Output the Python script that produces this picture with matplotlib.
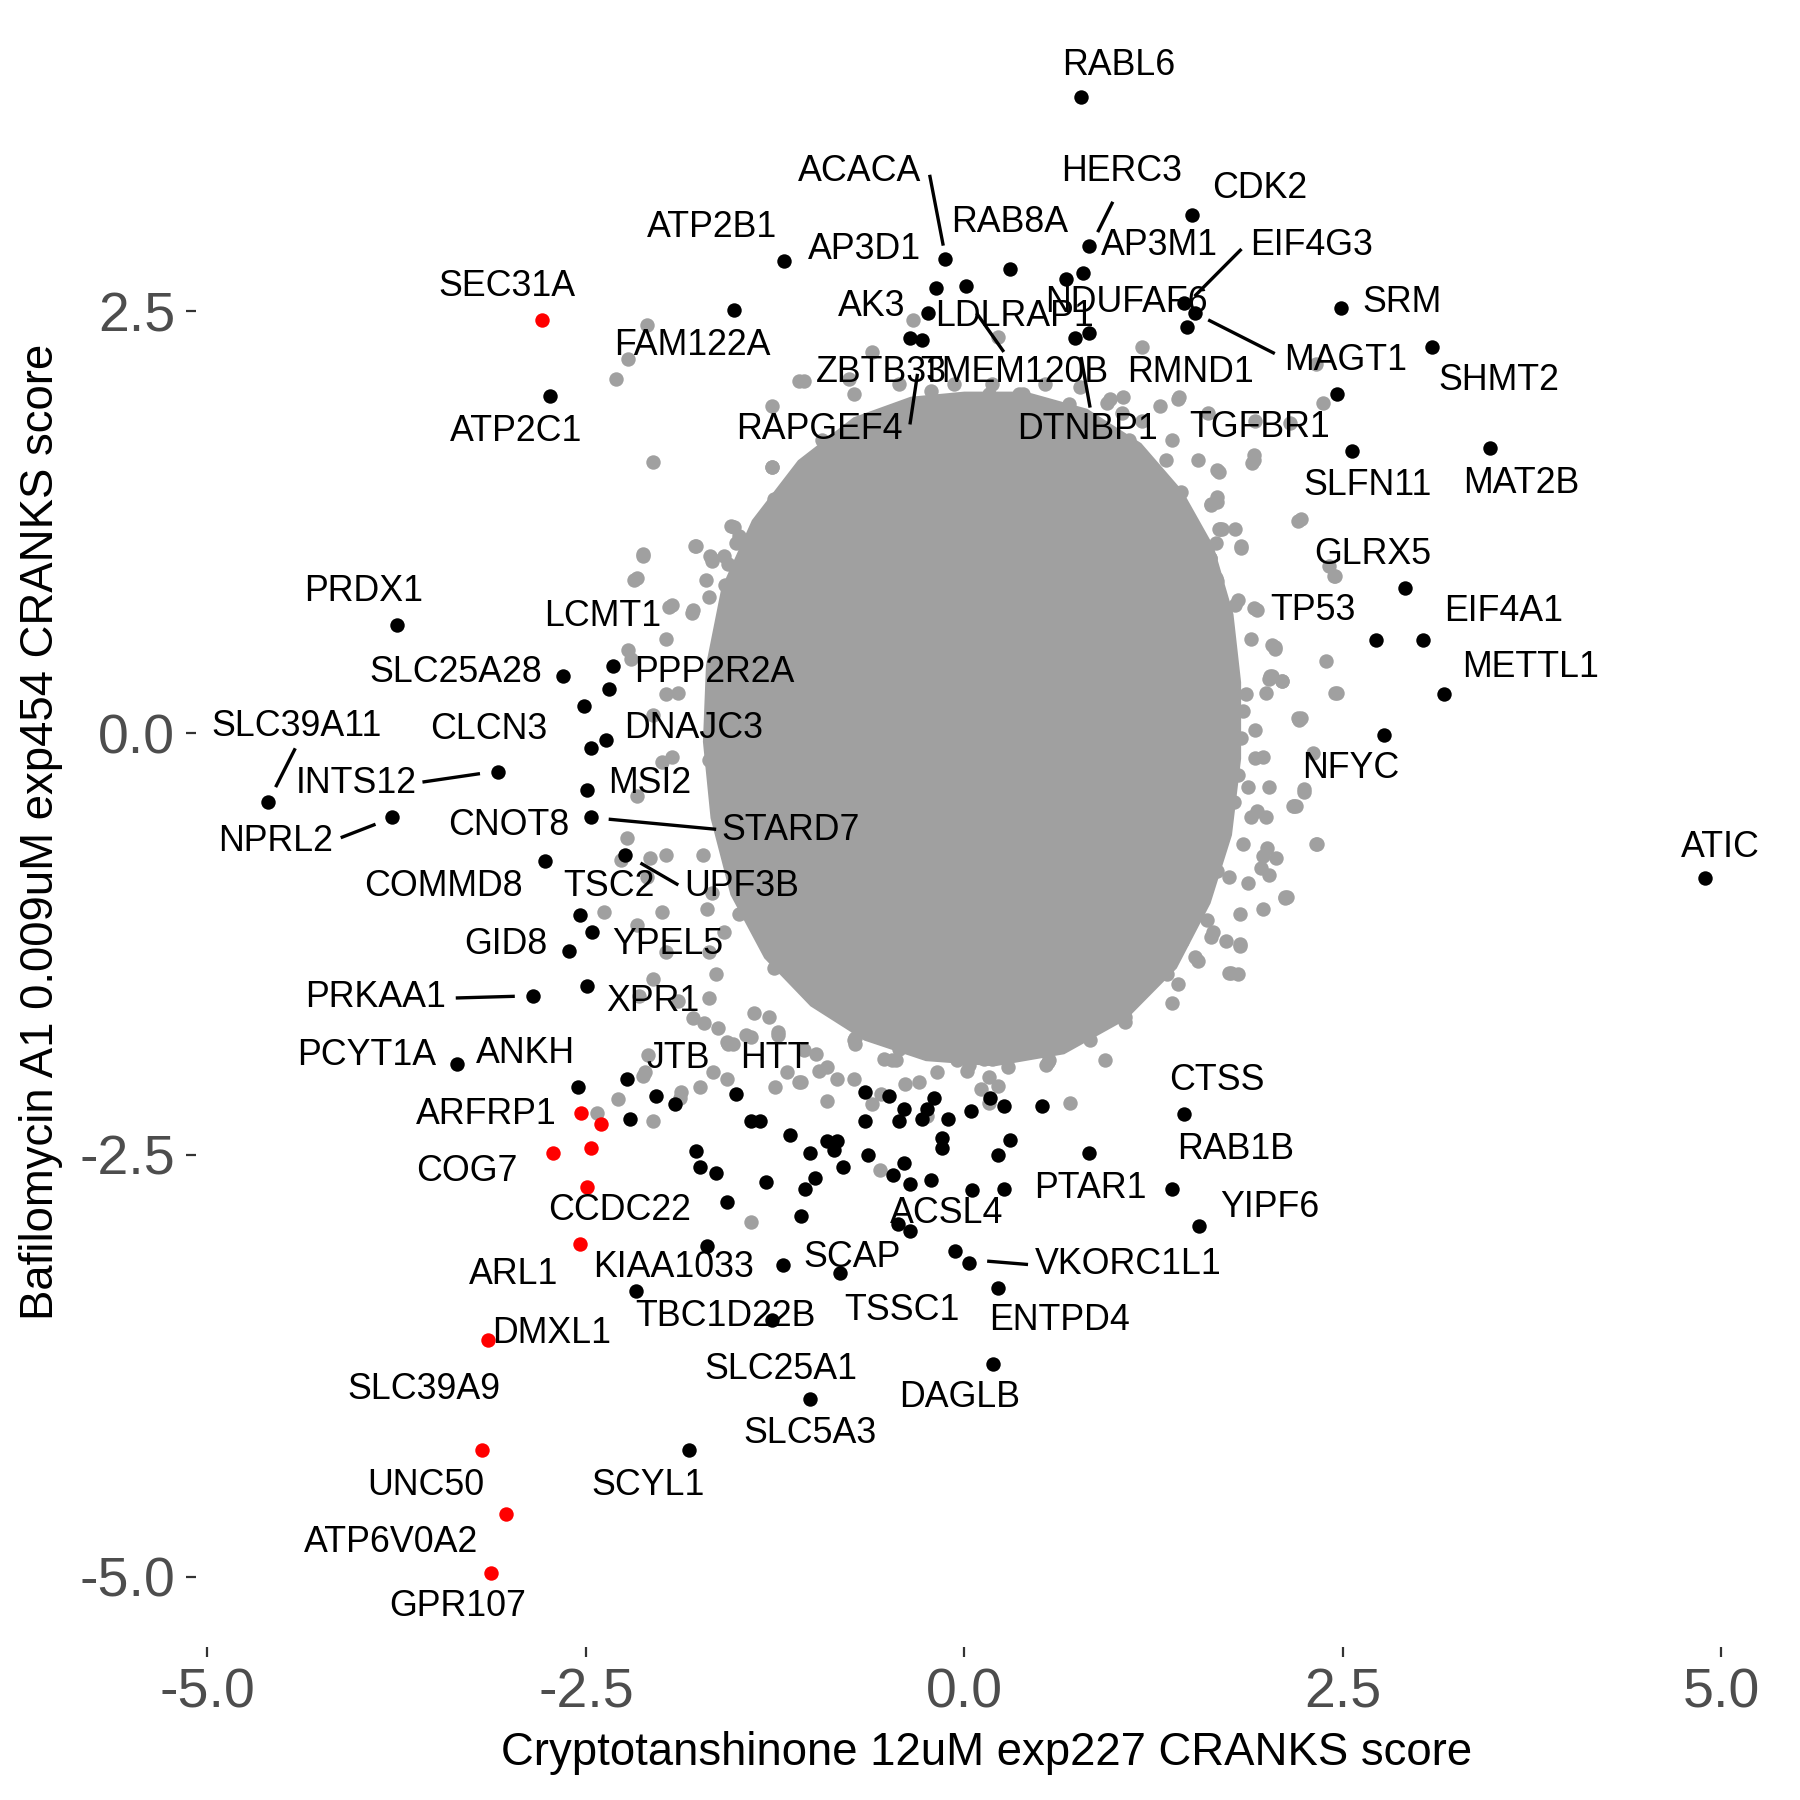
import numpy as np
import matplotlib
matplotlib.use("Agg")
import matplotlib.pyplot as plt
from matplotlib.patches import Polygon

plt.rcParams["font.family"] = ["Liberation Sans", "DejaVu Sans"]

# ---- data (CRANKS scores) ----
# dense centre of the gray cloud, traced outline
core_x = [0.0, 0.4, 0.8, 1.15, 1.42, 1.62, 1.75, 1.80, 1.80, 1.74, 1.60, 1.38, 1.05, 0.65,
          0.2, -0.25, -0.65, -1.0, -1.3, -1.52, -1.65, -1.70, -1.68, -1.58, -1.38, -1.08,
          -0.72, -0.35]
core_y = [2.0, 2.0, 1.9, 1.7, 1.42, 1.1, 0.7, 0.3, -0.15, -0.6, -1.0, -1.38, -1.68, -1.88,
          -1.95, -1.92, -1.80, -1.60, -1.32, -0.95, -0.5, -0.05, 0.4, 0.85, 1.25, 1.6,
          1.85, 1.97]

# background genes around the dense centre
gray_pts = [
    # upper left
    (-2.10, 2.42), (-2.22, 2.22), (-2.30, 2.10), (-2.06, 1.61), (-1.54, 1.23), (-1.77, 1.11),
    (-1.67, 1.03), (-2.12, 1.05), (-2.18, 0.91), (-1.71, 0.91), (-1.58, 0.88), (-1.51, 1.13),
    # top
    (-0.34, 2.45), (-0.61, 2.26), (-1.06, 2.09), (-1.27, 1.94), (-1.27, 1.58), (0.22, 2.35),
    (1.17, 2.29), (1.19, 1.57), (1.37, 1.74), (1.63, 1.36), (1.83, 1.10), (2.20, 1.26),
    (1.91, 1.65),
    # rim of the cloud
    (-1.09, 2.09), (-0.73, 2.01), (1.05, 1.99), (1.42, 1.99), (1.67, 1.56), (1.91, 1.62),
    (2.22, 1.27), (1.83, 1.11), (1.68, 1.21), (2.44, 0.93), (1.91, 0.74), (2.03, 0.52),
    (2.01, 0.32), (2.45, 0.24), (2.21, 0.08), (1.92, 0.02), (1.97, -0.14), (2.24, -0.33),
    (2.18, -0.43), (2.33, -0.66), (2.12, -0.98), (1.75, -0.85), (1.81, -1.43), (1.52, -1.33),
    (1.60, -1.11), (1.37, -1.60), (1.06, -1.68), (0.93, -1.94), (0.56, -1.94), (0.16, -2.04),
    (-0.05, -1.94), (-0.25, -1.88), (-0.45, -1.94), (-0.72, -1.81), (-0.96, -2.00),
    (-1.06, -1.88), (-1.29, -1.68), (-1.63, -1.75), (-1.89, -1.59), (-2.06, -1.46),
    (-1.97, -1.30), (-2.00, -1.06), (-2.10, -0.85), (-2.27, -0.75), (-1.97, -0.72),
    (-1.70, -1.04), (-1.73, -0.72), (-2.16, -0.37), (-1.93, -0.14), (-2.06, 0.11), (-1.89, 0.24),
    (-2.20, 0.44), (-1.97, 0.56), (-1.79, 0.73), (-1.93, 0.76), (-2.16, 0.92), (-2.12, 1.06),
    (-1.78, 1.11), (-1.68, 1.05), (-1.52, 1.22), (-1.19, 1.27), (-1.09, 1.48), (-1.27, 1.58),
    (-0.99, 1.59), (-0.72, 1.82), (-0.32, 1.88), (-0.11, 1.91), (0.16, 2.01), (0.39, 2.01),
    (0.69, 1.95), (0.96, 1.98), (1.17, 1.85), (1.33, 1.62), (1.43, 1.43), (1.70, 1.21),
    (1.67, 1.37), (1.47, 0.89), (1.81, 0.79), (1.64, 0.60), (1.97, -1.04), (1.73, -1.23),
    (1.13, -1.39), (0.73, -1.65), (0.56, -1.75), (0.32, -1.81),
    # below the cloud
    (-2.43, -2.25), (-2.29, -2.17), (-2.06, -2.30), (-2.12, -2.03), (-2.09, -1.91), (-1.88, -2.16),
    (-1.75, -2.10), (-1.66, -2.01), (-1.57, -2.05), (-1.44, -1.79), (-1.57, -1.83), (-1.72, -1.72),
    (-1.41, -2.90), (-1.23, -1.79), (-1.25, -2.10), (-1.17, -2.01), (-1.09, -2.07), (-0.98, -1.90),
    (-0.91, -2.18), (-0.84, -2.05), (-0.73, -2.05), (-0.72, -1.84), (-0.61, -2.20), (-0.55, -2.14),
    (-0.56, -2.59), (-0.48, -1.94), (-0.39, -2.08), (-0.30, -2.07), (-0.25, -2.27), (-0.18, -2.01),
    (-0.09, -1.90), (0.02, -2.00), (0.11, -2.11), (0.16, -2.19), (0.22, -2.09), (0.29, -1.98),
    (0.13, -1.93), (0.38, -1.87), (0.54, -1.97), (0.70, -2.19), (0.45, -1.76),
    # right
    (2.32, 2.19), (2.37, 1.96), (1.92, 1.85), (2.15, 1.84), (1.61, 1.90), (1.90, 1.60),
    (1.68, 1.55), (1.63, 1.35), (1.69, 1.21), (1.66, 1.13), (1.62, 1.04), (2.41, 0.99),
    (2.45, 0.93), (1.66, 0.92), (1.93, 0.73), (2.05, 0.51), (2.39, 0.43), (2.46, 0.24),
    (2.22, 0.09), (2.10, 0.31), (2.03, 0.34), (2.30, -0.12), (2.24, -0.35), (2.19, -0.43),
    (2.32, -0.66), (2.00, -0.68), (2.06, -0.74), (1.96, -0.80), (2.01, -0.84), (1.87, -0.89),
    (2.13, -0.97), (1.82, -1.07), (1.63, -1.21), (1.82, -1.26), (1.76, -1.42), (1.92, -0.15),
    (1.81, -0.25), (2.01, -0.32), (1.93, -0.46), (1.89, -0.50), (1.78, -0.41), (1.83, -0.03),
    (1.86, 0.23), (1.99, 0.24), (1.76, 0.40), (1.71, 0.65), (1.79, 0.76),
    # left
    (-1.95, 0.75), (-1.80, 0.71), (-2.22, 0.49), (-1.97, 0.23), (-2.00, -0.17), (-2.23, -0.62),
    (-2.08, -0.74), (-2.38, -1.06), (-2.16, -1.14), (-2.15, -1.56), (-1.79, -1.69), (-1.53, -1.84),
    (-2.11, -2.01), (-1.87, -2.13),
    # inner ring
    (2.05, 0.50), (2.10, 0.31), (2.20, 0.09), (2.17, -0.43), (2.12, -0.97), (1.82, -1.25),
    (1.75, -1.42), (1.54, -1.35), (1.41, -1.49), (1.34, -1.43), (1.13, -1.39), (1.06, -1.71),
    (1.09, -1.56), (0.83, -1.82), (0.55, -1.95), (0.36, -1.86), (0.18, -1.93), (0.03, -1.97),
    (-0.10, -1.88), (-0.28, -1.80), (-0.43, -1.87), (-0.53, -1.93), (-0.73, -1.82), (-0.91, -1.98),
    (-1.08, -2.07), (-1.23, -1.77), (-1.41, -1.80), (-1.56, -1.84), (-1.69, -1.57), (-1.39, -1.66),
    (-1.64, -1.43), (-1.26, -1.39), (1.62, 1.04), (1.67, 0.90), (1.72, 0.68), (1.89, 0.56),
    (2.02, 0.34), (1.84, 0.13), (1.87, -0.32), (1.99, -0.50), (1.84, -0.66), (1.97, -0.73),
    (1.67, -0.82), (1.54, -0.94), (1.29, -1.00), (1.64, -1.18), (1.44, -1.23),
    (-1.67, 1.02), (-1.56, 1.00), (-1.41, 0.95), (-1.69, 0.81), (-1.49, 0.70), (-1.59, 0.59),
    (-1.44, 0.52), (-1.67, 0.23), (-1.54, 0.13), (-1.69, -0.16), (-1.64, -0.32), (-1.49, -0.23),
    (-1.54, -0.73), (-1.67, -0.95), (-1.49, -1.07), (-1.69, -1.30), (-1.59, -1.18),
    (-0.76, 2.10), (-0.43, 2.07), (-0.22, 2.03), (-0.07, 2.07), (0.18, 2.07), (0.36, 2.01),
    (0.53, 2.07), (0.76, 2.05), (0.94, 1.96), (1.04, 1.90), (1.29, 1.94), (1.41, 1.98),
    (1.09, 1.74), (0.86, 1.80), (0.63, 1.76), (0.36, 1.80), (0.08, 1.80), (-0.15, 1.76),
    (-0.38, 1.78), (-0.58, 1.71), (-0.78, 1.62), (-0.94, 1.74), (-1.11, 1.51), (-1.26, 1.39),
    (-0.91, 1.49), (-1.49, 1.17), (-1.59, 1.05), (-1.37, 1.03), (1.54, 1.62), (1.67, 1.40),
    (1.79, 1.21), (1.54, 1.17), (1.41, 1.33),
]

# hits (black)
black_pts = [
    (0.77, 3.77), (1.50, 3.07), (0.82, 2.89), (-1.19, 2.80), (-0.13, 2.81), (0.30, 2.75),
    (-0.19, 2.64), (0.01, 2.65), (0.67, 2.69), (0.78, 2.73), (-1.52, 2.51), (-0.24, 2.49),
    (-0.36, 2.34), (-0.28, 2.33), (0.73, 2.34), (0.82, 2.37), (1.45, 2.55), (1.52, 2.49),
    (1.47, 2.41), (2.49, 2.52), (3.09, 2.29), (2.46, 2.01), (2.56, 1.67), (3.47, 1.69),
    (2.91, 0.86), (2.72, 0.55), (3.03, 0.55), (3.17, 0.23), (2.77, -0.01), (4.89, -0.86),
    (-2.74, 2.00),
    (-3.75, 0.64), (-2.65, 0.34), (-2.32, 0.40), (-2.35, 0.26), (-2.51, 0.16), (-2.37, -0.04),
    (-2.47, -0.09), (-3.08, -0.23), (-4.60, -0.41), (-3.78, -0.50), (-2.49, -0.34), (-2.47, -0.50),
    (-2.77, -0.76), (-2.24, -0.72), (-2.54, -1.08), (-2.46, -1.18), (-2.61, -1.29), (-2.49, -1.50),
    (-2.85, -1.56), (-3.35, -1.96),
    (-2.55, -2.10), (-2.23, -2.05), (-2.21, -2.29), (-2.04, -2.15), (-1.91, -2.20), (-1.51, -2.14),
    (-1.41, -2.30), (-1.35, -2.30), (-1.15, -2.38), (-1.77, -2.48), (-1.75, -2.57), (-1.64, -2.61),
    (-1.57, -2.78), (-1.31, -2.66), (-1.02, -2.49), (-0.99, -2.64), (-1.05, -2.70), (-1.08, -2.86),
    (-0.91, -2.42), (-0.84, -2.42), (-0.86, -2.47), (-0.80, -2.57), (-0.66, -2.13), (-0.50, -2.15),
    (-0.66, -2.30), (-0.64, -2.50), (-0.40, -2.23), (-0.43, -2.30), (-0.25, -2.23), (-0.20, -2.16),
    (-0.28, -2.29), (-0.11, -2.29), (-0.15, -2.40), (-0.15, -2.46), (-0.40, -2.55), (-0.47, -2.62),
    (-0.36, -2.67), (-0.22, -2.65), (0.04, -2.24), (0.17, -2.16), (0.26, -2.21), (0.51, -2.21),
    (0.30, -2.41), (0.22, -2.50), (0.05, -2.71), (0.26, -2.70), (0.82, -2.49), (1.45, -2.26),
    (1.37, -2.70), (1.55, -2.92), (-0.44, -2.91), (-0.36, -2.95), (-0.06, -3.07), (0.03, -3.14),
    (0.22, -3.29), (-1.70, -3.04), (-1.20, -3.15), (-0.82, -3.20), (-2.17, -3.31), (-1.27, -3.48),
    (0.19, -3.74), (-1.02, -3.95), (-1.82, -4.25),
]

# highlighted genes (red)
red_pts = [
    (-2.79, 2.45), (-2.53, -2.25), (-2.40, -2.32), (-2.72, -2.49), (-2.47, -2.46), (-2.49, -2.69),
    (-2.54, -3.03), (-3.15, -3.60), (-3.19, -4.25), (-3.03, -4.63), (-3.13, -4.98),
]

gene_labels = ["RABL6", "ACACA", "HERC3", "CDK2", "ATP2B1", "RAB8A", "AP3D1", "AP3M1", "EIF4G3",
               "SEC31A", "AK3", "LDLRAP1", "NDUFAF6", "SRM", "FAM122A", "MAGT1", "ZBTB33",
               "TMEM120B", "RMND1", "SHMT2", "ATP2C1", "RAPGEF4", "DTNBP1", "TGFBR1", "SLFN11",
               "MAT2B", "GLRX5", "PRDX1", "TP53", "EIF4A1", "LCMT1", "SLC25A28", "PPP2R2A",
               "METTL1", "SLC39A11", "CLCN3", "DNAJC3", "NFYC", "INTS12", "MSI2", "STARD7",
               "NPRL2", "CNOT8", "ATIC", "COMMD8", "TSC2", "UPF3B", "GID8", "YPEL5", "PRKAA1",
               "XPR1", "PCYT1A", "ANKH", "JTB", "HTT", "CTSS", "ARFRP1", "RAB1B", "COG7", "PTAR1",
               "CCDC22", "ACSL4", "YIPF6", "ARL1", "KIAA1033", "SCAP", "VKORC1L1", "TSSC1",
               "TBC1D22B", "ENTPD4", "DMXL1", "SLC25A1", "SLC39A9", "DAGLB", "SLC5A3", "UNC50",
               "SCYL1", "ATP6V0A2", "GPR107"]

# ---- layout: repelled label positions and connector segments ----
label_pos = [(1.02, 3.96), (-0.69, 3.33), (1.04, 3.33), (1.95, 3.23), (-1.67, 3.00), (0.30, 3.03),
             (-0.66, 2.87), (1.29, 2.89), (2.29, 2.89), (-3.02, 2.65), (-0.61, 2.53), (0.33, 2.47),
             (1.07, 2.55), (2.89, 2.55), (-1.80, 2.30), (2.52, 2.21), (-0.55, 2.14), (0.33, 2.14),
             (1.49, 2.14), (3.53, 2.09), (-2.96, 1.79), (-0.96, 1.80), (0.81, 1.80), (1.95, 1.81),
             (2.66, 1.47), (3.68, 1.48), (2.70, 1.06), (-3.97, 0.84), (2.30, 0.73), (3.56, 0.72),
             (-2.39, 0.69), (-3.36, 0.36), (-1.65, 0.36), (3.74, 0.39), (-4.41, 0.04), (-3.14, 0.02),
             (-1.79, 0.03), (2.55, -0.21), (-4.02, -0.30), (-2.08, -0.30), (-1.15, -0.58),
             (-4.55, -0.64), (-3.01, -0.55), (4.99, -0.68), (-3.44, -0.91), (-2.35, -0.91),
             (-1.47, -0.91), (-3.03, -1.25), (-1.96, -1.25), (-3.89, -1.57), (-2.06, -1.59),
             (-3.95, -1.91), (-2.90, -1.90), (-1.89, -1.93), (-1.25, -1.93), (1.67, -2.06),
             (-3.16, -2.26), (1.79, -2.47), (-3.29, -2.60), (0.83, -2.70), (-2.28, -2.83),
             (-0.12, -2.85), (2.02, -2.81), (-2.98, -3.21), (-1.92, -3.17), (-0.74, -3.11),
             (1.08, -3.15), (-0.41, -3.42), (-1.58, -3.46), (0.63, -3.48), (-2.73, -3.56),
             (-1.21, -3.77), (-3.57, -3.89), (-0.03, -3.94), (-1.02, -4.15), (-3.56, -4.46),
             (-2.09, -4.46), (-3.79, -4.80), (-3.35, -5.18)]

segments = [((-0.23, 3.31), (-0.14, 2.89)), ((0.98, 3.15), (0.88, 2.97)),
            ((1.83, 2.87), (1.52, 2.59)), ((1.61, 2.45), (2.05, 2.25)),
            ((0.26, 2.26), (0.08, 2.49)), ((-0.36, 1.83), (-0.31, 2.13)),
            ((0.83, 1.93), (0.77, 2.23)), ((-4.42, -0.09), (-4.55, -0.32)),
            ((-4.12, -0.62), (-3.89, -0.54)), ((-3.58, -0.29), (-3.20, -0.24)),
            ((-2.35, -0.51), (-1.64, -0.57)), ((-2.14, -0.77), (-1.89, -0.90)),
            ((-3.36, -1.57), (-2.97, -1.56)), ((0.15, -3.13), (0.42, -3.15))]

# ---- plot ----
fig = plt.figure(figsize=(9, 9), dpi=200)
ax = fig.add_axes([0.109, 0.085, 0.878, 0.902])

gray = "#a0a0a0"
ax.add_patch(Polygon(np.column_stack([core_x, core_y]), closed=True, facecolor=gray,
                     edgecolor=gray, linewidth=3, zorder=1))
gx, gy = zip(*gray_pts)
ax.scatter(gx, gy, s=27, color=gray, linewidths=0, zorder=2)

for (x0, y0), (x1, y1) in segments:
    ax.plot([x0, x1], [y0, y1], color="black", lw=1.2, zorder=3, solid_capstyle="butt")

bx, by = zip(*black_pts)
ax.scatter(bx, by, s=27, color="black", linewidths=0, zorder=4)
rx, ry = zip(*red_pts)
ax.scatter(rx, ry, s=27, color="#ff0000", linewidths=0, zorder=4)

for name, (lx, ly) in zip(gene_labels, label_pos):
    ax.text(lx, ly, name, fontsize=12.9, ha="center", va="center", color="black", zorder=5)

# ggplot-like default expansion of 5 %
all_x = np.array(list(gx) + list(bx) + list(rx))
all_y = np.array(list(gy) + list(by) + list(ry))
xr = all_x.max() - all_x.min()
yr = all_y.max() - all_y.min()
ax.set_xlim(all_x.min() - 0.05 * xr, all_x.max() + 0.05 * xr)
ax.set_ylim(all_y.min() - 0.05 * yr, all_y.max() + 0.05 * yr)

ax.set_xticks([-5.0, -2.5, 0.0, 2.5, 5.0])
ax.set_yticks([-5.0, -2.5, 0.0, 2.5])
ax.set_xticklabels(["-5.0", "-2.5", "0.0", "2.5", "5.0"])
ax.set_yticklabels(["-5.0", "-2.5", "0.0", "2.5"])
ax.tick_params(axis="both", labelsize=20, labelcolor="#4d4d4d", color="#333333",
               length=3.5, width=0.8, pad=4)
for sp in ax.spines.values():
    sp.set_visible(False)

fig.text(0.548, 0.026, "Cryptotanshinone 12uM exp227 CRANKS score", fontsize=16.4,
         ha="center", va="center")
fig.text(0.023, 0.538, "Bafilomycin A1 0.009uM exp454 CRANKS score", fontsize=16.4,
         ha="center", va="center", rotation=90)

fig.savefig("out.png", dpi=200)
